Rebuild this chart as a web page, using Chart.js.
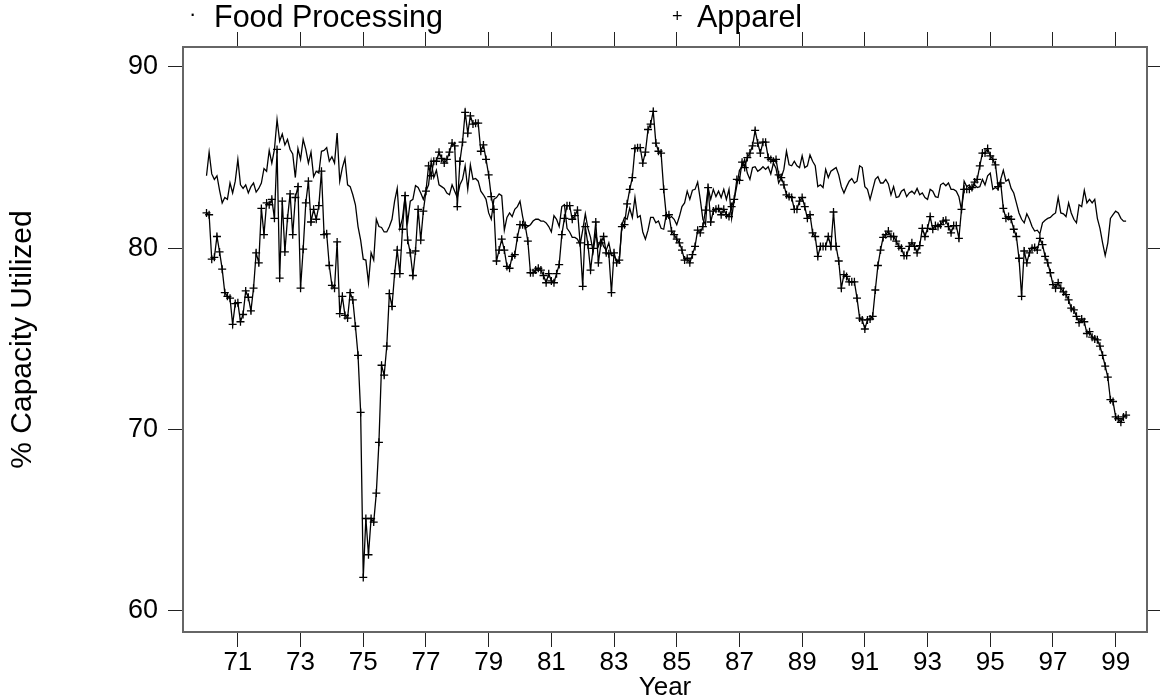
<!DOCTYPE html>
<html>
<head>
<meta charset="utf-8">
<script src="https://cdn.jsdelivr.net/npm/chart.js@4.4.1/dist/chart.umd.min.js"></script>
<style>
  html, body { margin: 0; padding: 0; background: #fff; }
  #wrap { position: relative; width: 1160px; height: 698px; }
  #legend span { position: absolute; font-family: 'Liberation Sans', Arial, sans-serif; color: #000; white-space: nowrap; }
</style>
</head>
<body>
<div id="wrap">
  <canvas id="c"></canvas>
  <div id="legend">
    <span id="lgDot" style="left:189px; top:-1px; font-size:22px; line-height:30px;">·</span>
    <span id="lgFood" style="left:214px; top:1px; font-size:30.5px; line-height:31px;">Food Processing</span>
    <span id="lgPlus" style="left:672px; top:3px; font-size:18px; line-height:26px;">+</span>
    <span id="lgApp" style="left:697px; top:1px; font-size:30.5px; line-height:31px;">Apparel</span>
  </div>
</div>
<script>
// ---- data (monthly, Jan 1970 .. May 1999) ----
const startYear = 1970;
const seriesNames = ['Food Processing', 'Apparel'];
const xTickYears = [71, 73, 75, 77, 79, 81, 83, 85, 87, 89, 91, 93, 95, 97, 99];
const yTicks = [60, 70, 80, 90];

const food = [
  84.0, 85.3, 84.1, 83.8, 84.0, 83.2, 82.5, 82.8, 82.7, 83.6, 83.05, 83.7,
  84.9, 83.5, 83.3, 83.5, 83.05, 83.4, 83.6, 83.1, 83.3, 83.6, 84.4, 84.25,
  85.4, 84.7, 85.45, 87.1, 85.9, 86.3, 85.7, 86.0, 85.45, 85.2, 83.9, 85.5,
  84.9, 86.0, 85.45, 84.7, 85.3, 83.95, 84.25, 84.15, 85.35, 85.4, 85.55, 84.8,
  85.05, 84.7, 86.35, 83.7, 84.45, 84.95, 83.5, 83.4, 82.95, 82.4, 81.2, 80.45,
  79.4, 79.35, 78.1, 79.75, 79.35, 81.6, 81.2, 81.15, 80.9, 80.9, 81.2, 81.6,
  82.6, 83.3, 81.1, 81.65, 82.85, 81.45, 82.6, 82.7, 83.45, 83.35, 83.05, 82.7,
  83.15, 83.5, 84.8, 83.9, 84.3, 83.5, 83.4, 83.3, 83.05, 82.95, 83.5, 83.15,
  82.8, 83.5, 83.8, 84.55, 83.25, 84.6, 83.8, 83.85, 83.7, 83.15, 82.95, 82.7,
  81.95, 81.6, 82.7, 82.8, 83.0, 82.9, 81.0, 81.7, 81.95, 81.75, 82.15, 82.3,
  82.6, 81.75, 81.1, 81.2, 81.3, 81.5, 81.6, 81.6, 81.5, 81.5, 81.4, 81.2,
  80.9, 81.8, 81.6, 81.2, 82.3, 82.4, 81.1, 80.9, 80.6, 80.6, 80.5, 80.2,
  81.0, 81.9, 81.1, 80.6, 79.8, 80.8, 80.1, 80.5, 80.1, 79.9, 80.3, 79.6,
  79.6, 79.3, 79.3, 81.3, 81.7, 81.6, 82.2, 81.7, 82.8, 81.7, 81.8, 80.9,
  80.5, 81.0, 81.7, 81.7, 81.4, 81.5, 81.1, 81.05, 81.85, 81.65, 81.75, 81.6,
  81.3, 81.75, 82.3, 82.5, 83.15, 82.7, 83.2, 83.25, 83.65, 82.7, 81.6, 81.3,
  83.35, 82.7, 83.25, 82.85, 83.15, 82.8, 83.25, 82.7, 83.25, 81.65, 82.7, 83.45,
  84.3, 84.5, 84.9, 84.15, 83.8, 84.45, 84.5, 84.25, 84.35, 84.5, 84.35, 84.5,
  84.1, 84.7, 84.4, 83.6, 83.9, 84.35, 85.35, 84.6, 84.55, 84.8, 84.55, 84.45,
  85.1, 84.45, 84.55, 85.15, 84.8, 84.55, 83.4, 83.5, 83.35, 84.35, 83.9, 84.25,
  84.35, 84.45, 84.05, 83.4, 83.05, 83.4, 83.7, 83.85, 83.6, 83.7, 84.55, 84.45,
  83.4, 83.25, 82.7, 83.25, 83.8, 83.95, 83.6, 83.6, 83.8, 83.55, 82.95, 83.4,
  82.8, 82.85, 83.15, 83.25, 82.85, 83.05, 83.15, 83.0, 83.3, 82.95, 83.05, 82.8,
  82.7, 83.25, 83.15, 82.85, 82.8, 83.5, 83.6, 83.45, 83.6, 83.25, 83.25, 83.15,
  82.85, 82.1, 83.7, 83.4, 83.5, 83.25, 83.5, 83.35, 83.4, 83.8, 83.5, 84.0,
  84.15, 83.25, 83.35, 83.25, 83.8, 84.3, 83.7, 83.8, 83.3, 83.05, 82.5, 81.95,
  81.6, 81.4, 81.9, 81.6, 81.2, 80.95, 81.0, 80.8, 81.4, 81.55, 81.65, 81.7,
  81.85, 81.95, 82.8, 81.95, 81.9, 81.75, 82.5, 81.95, 81.6, 81.4, 82.4, 82.3,
  83.2, 82.5, 82.7, 82.5, 82.7, 81.65, 81.1, 80.3, 79.6, 80.3, 81.65, 81.85,
  82.05, 81.95, 81.65, 81.5, 81.5
];

const apparel = [
  81.95, 81.85, 79.4, 79.5, 80.65, 79.8, 78.85, 77.55, 77.35, 77.25, 75.8, 76.95,
  77.0, 75.95, 76.35, 77.65, 77.3, 76.55, 77.8, 79.75, 79.2, 82.2, 80.75, 82.5,
  82.4, 82.7, 81.65, 85.45, 78.35, 82.6, 79.8, 81.65, 83.0, 80.75, 82.8, 83.4,
  77.8, 79.95, 82.5, 83.7, 81.45, 82.15, 81.6, 82.35, 84.25, 80.75, 80.8, 79.05,
  77.95, 77.8, 80.35, 76.4, 77.35, 76.3, 76.15, 77.55, 77.15, 75.7, 74.1, 70.95,
  61.85, 65.1, 63.1, 65.1, 64.9, 66.5, 69.3, 73.55, 73.0, 74.6, 77.5, 76.8,
  78.6, 79.9, 78.6, 81.05, 82.9, 80.45, 79.75, 78.5, 79.85, 82.15, 80.45, 82.05,
  83.15, 84.55, 84.0, 84.8, 84.8, 85.3, 84.95, 84.7, 84.9, 85.3, 85.8, 85.65,
  82.3, 84.8, 85.85, 87.5, 86.35, 87.3, 86.85, 86.9, 86.9, 85.35, 85.7, 84.9,
  84.05, 82.85, 82.15, 79.3, 79.9, 80.5, 79.9, 79.0, 78.9, 79.55, 79.65, 80.6,
  81.3, 81.3, 81.25, 80.4, 78.65, 78.65, 78.8, 78.9, 78.8, 78.5, 78.1, 78.6,
  78.2, 78.1, 78.6, 79.1, 80.75, 81.65, 82.35, 82.35, 81.6, 81.8, 82.1, 80.3,
  77.9, 81.2, 80.2, 78.8, 80.0, 81.45, 79.2, 80.3, 80.65, 79.75, 79.7, 77.55,
  79.75, 79.2, 79.35, 81.2, 81.3, 82.45, 83.25, 83.9, 85.5, 85.55, 85.55, 84.7,
  85.3, 86.55, 86.85, 87.55, 85.8, 85.35, 85.25, 83.25, 81.8, 81.85, 80.95, 80.75,
  80.5, 80.3, 79.9, 79.35, 79.45, 79.2, 79.65, 80.1, 81.0, 80.85, 81.2, 82.1,
  83.35, 81.45, 82.05, 82.15, 82.2, 81.85, 82.15, 81.85, 81.75, 82.3, 82.7, 83.8,
  83.75, 84.75, 84.45, 85.0, 85.25, 85.65, 86.5, 85.8, 85.25, 85.85, 85.85, 85.0,
  84.9, 84.8, 84.9, 84.05, 83.9, 83.5, 82.95, 82.85, 82.8, 82.15, 82.15, 82.6,
  82.8, 82.3, 81.65, 81.85, 80.85, 80.65, 79.55, 80.1, 80.1, 80.1, 80.65, 80.1,
  82.0, 80.1, 79.3, 77.8, 78.55, 78.45, 78.15, 78.15, 78.15, 77.25, 76.15, 76.05,
  75.55, 76.05, 76.1, 76.25, 77.7, 79.05, 79.9, 80.6, 80.75, 80.95, 80.65, 80.65,
  80.4, 80.1, 80.0, 79.6, 79.6, 80.1, 80.3, 80.1, 79.75, 80.15, 81.1, 80.65,
  81.1, 81.75, 81.05, 81.25, 81.2, 81.3, 81.5, 81.55, 81.2, 80.85, 81.25, 81.25,
  80.55, 82.15, 83.25, 83.25, 83.25, 83.35, 83.65, 83.8, 84.55, 85.25, 85.25, 85.5,
  85.1, 84.9, 84.6, 83.4, 83.6, 82.2, 81.65, 81.75, 81.6, 81.05, 80.65, 79.45,
  77.35, 79.85, 79.2, 79.75, 80.0, 80.05, 79.9, 80.55, 80.2, 79.55, 79.2, 78.65,
  78.0, 77.8, 78.1, 77.8, 77.6, 77.45, 77.15, 76.7, 76.6, 76.25, 75.9, 76.1,
  75.95, 75.3, 75.4, 75.1, 75.0, 74.95, 74.6, 74.1, 73.5, 72.9, 71.65, 71.55,
  70.7, 70.6, 70.4, 70.7, 70.8
];

// x position of each monthly observation (decimal year)
const dates = food.map((_, i) => startYear + i / 12);
const toXY = arr => arr.map((v, i) => ({ x: dates[i], y: v }));

const FONT = "'Liberation Sans', Arial, Helvetica, sans-serif";
Chart.defaults.font.family = FONT;
Chart.defaults.color = '#000';

const X_MIN = 1969.25, X_MAX = 2000.0;
const Y_MIN = 58.84, Y_MAX = 91.1;
const frameColor = '#666';
const tickColor = '#222';

function setXTicks(scale) { scale.ticks = xTickYears.map(y => ({ value: 1900 + y })); }
function setYTicks(scale) { scale.ticks = yTicks.map(v => ({ value: v })); }

new Chart(document.getElementById('c'), {
  type: 'line',
  data: {
    datasets: [
      {
        label: seriesNames[0],
        data: toXY(food),
        borderColor: '#000',
        borderWidth: 1.3,
        pointRadius: 0,
        pointHoverRadius: 0,
        tension: 0,
        fill: false
      },
      {
        label: seriesNames[1],
        data: toXY(apparel),
        borderColor: '#000',
        borderWidth: 1.3,
        pointStyle: 'cross',
        pointRadius: 4,
        pointBorderWidth: 1.3,
        pointBorderColor: '#000',
        pointBackgroundColor: '#000',
        tension: 0,
        fill: false
      }
    ]
  },
  options: {
    responsive: true,
    maintainAspectRatio: false,
    animation: false,
    events: [],
    layout: { padding: { top: 32, right: 0, bottom: 0, left: 0 } },
    plugins: { legend: { display: false }, tooltip: { enabled: false }, title: { display: false } },
    scales: {
      x: {
        type: 'linear', position: 'bottom', min: X_MIN, max: X_MAX,
        afterBuildTicks: setXTicks,
        afterFit: s => { s.height = 66; },
        ticks: { autoSkip: false, maxRotation: 0, padding: 0, font: { size: 26 }, color: '#000',
                 callback: v => String(Math.round(v) - 1900) },
        grid: { drawOnChartArea: false, drawTicks: true, tickLength: 15, color: tickColor, lineWidth: 1 },
        border: { display: true, color: frameColor, width: 2 },
        title: { display: true, text: 'Year', font: { size: 26, lineHeight: 0.77 }, color: '#000', padding: { top: 0, bottom: 0 } }
      },
      x2: {
        type: 'linear', position: 'top', min: X_MIN, max: X_MAX,
        afterBuildTicks: setXTicks,
        afterFit: s => { s.height = 15; },
        ticks: { display: false },
        grid: { drawOnChartArea: false, drawTicks: true, tickLength: 15, color: tickColor, lineWidth: 1 },
        border: { display: true, color: frameColor, width: 2 }
      },
      y: {
        type: 'linear', position: 'left', min: Y_MIN, max: Y_MAX,
        afterBuildTicks: setYTicks,
        afterFit: s => { s.width = 183; },
        ticks: { padding: 10, font: { size: 27 }, color: '#000' },
        grid: { drawOnChartArea: false, drawTicks: true, tickLength: 15, color: tickColor, lineWidth: 1 },
        border: { display: true, color: frameColor, width: 2 },
        title: { display: true, text: '% Capacity Utilized', font: { size: 30, lineHeight: 1 }, color: '#000', padding: { top: 8, bottom: 0 } }
      },
      y2: {
        type: 'linear', position: 'right', min: Y_MIN, max: Y_MAX,
        afterBuildTicks: setYTicks,
        afterFit: s => { s.width = 13; },
        ticks: { display: false },
        grid: { drawOnChartArea: false, drawTicks: true, tickLength: 13, color: tickColor, lineWidth: 1 },
        border: { display: true, color: frameColor, width: 2 }
      }
    }
  }
});
</script>
</body>
</html>
